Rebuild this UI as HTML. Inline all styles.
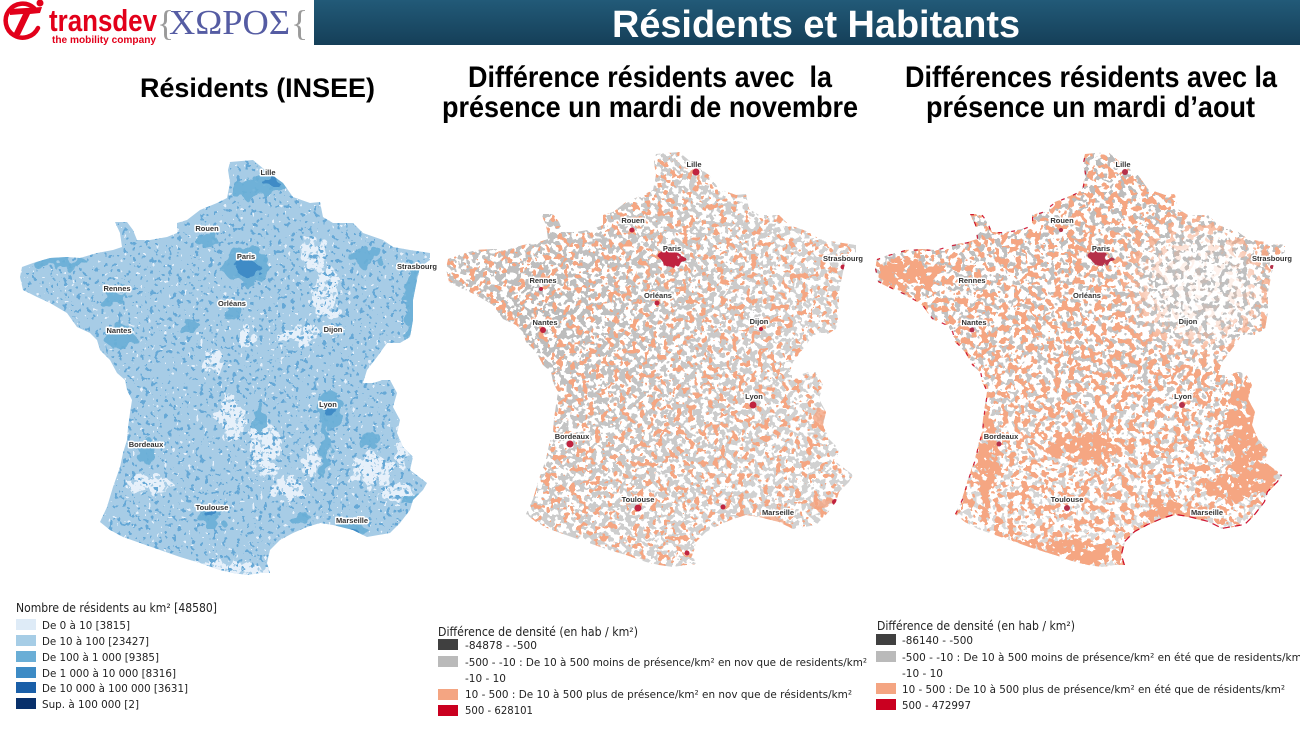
<!DOCTYPE html>
<html><head><meta charset="utf-8"><style>html,body{margin:0;padding:0;background:#fff}svg{display:block}</style></head>
<body>
<svg width="1300" height="731" viewBox="0 0 1300 731" xmlns="http://www.w3.org/2000/svg" xmlns:xlink="http://www.w3.org/1999/xlink" font-family="'Liberation Sans', sans-serif">
<defs>
 <linearGradient id="bar" x1="0" y1="0" x2="0" y2="1"><stop offset="0" stop-color="#225a78"/><stop offset="1" stop-color="#153f58"/></linearGradient>
 <linearGradient id="gN" x1="0" y1="0" x2="0" y2="1"><stop offset="0" stop-color="#fff"/><stop offset="0.5" stop-color="#ddd"/><stop offset="1" stop-color="#777"/></linearGradient>
 <radialGradient id="gW2" cx="0.25" cy="0.4" r="0.6"><stop offset="0" stop-color="#fff"/><stop offset="1" stop-color="#aaa"/></radialGradient>
 <path id="fr" d="M230,162 L253,160 L265,170 L283,183 L293,197 L310,203 L320,202 L323,217 L333,223 L353,223 L363,233 L383,240 L393,247 L410,250 L430,253 L430,260 L420,267 L417,280 L413,300 L413,320 L410,337 L400,343 L387,343 L377,357 L367,370 L363,383 L373,383 L383,380 L390,380 L397,393 L393,407 L400,420 L397,433 L403,447 L413,457 L410,470 L427,483 L423,490 L413,500 L410,510 L400,523 L390,533 L367,537 L353,530 L333,525 L320,523 L307,527 L293,533 L280,540 L270,550 L267,563 L270,573 L260,573 L247,575 L233,573 L220,570 L200,563 L180,557 L160,550 L140,543 L123,537 L110,530 L100,522 L107,507 L113,487 L120,467 L123,453 L127,440 L128,427 L130,413 L132,400 L127,390 L125,380 L117,373 L110,360 L100,350 L97,340 L90,333 L77,327 L67,313 L50,303 L37,297 L23,290 L20,277 L22,267 L33,263 L50,258 L67,257 L80,258 L97,253 L113,250 L122,247 L120,233 L115,222 L127,222 L133,230 L137,240 L150,240 L167,237 L177,233 L177,223 L187,220 L200,210 L217,203 L227,198 L230,183 L228,170 Z"/>
 <clipPath id="cf"><use xlink:href="#fr"/></clipPath>
 <filter id="rough" x="-30%" y="-30%" width="160%" height="160%" color-interpolation-filters="sRGB">
   <feTurbulence type="fractalNoise" baseFrequency="0.09" numOctaves="2" seed="4" result="n"/>
   <feDisplacementMap in="SourceGraphic" in2="n" scale="20" xChannelSelector="R" yChannelSelector="G"/>
 </filter>
 <filter id="blur8" x="-50%" y="-50%" width="200%" height="200%"><feGaussianBlur stdDeviation="15"/></filter>
 <filter id="fB1" x="0" y="0" width="1" height="1" color-interpolation-filters="sRGB">
   <feTurbulence type="fractalNoise" baseFrequency="0.22" numOctaves="2" seed="3"/>
   <feColorMatrix type="matrix" values="0 0 0 0 0.40 0 0 0 0 0.66 0 0 0 0 0.84 1 0 0 0 0"/>
   <feComponentTransfer><feFuncA type="discrete" tableValues="0 0 0 0 0 0 0 0 0 0 0 0 0 1 1 1 1 1 1 1"/></feComponentTransfer>
 </filter>
 <filter id="fW1" x="0" y="0" width="1" height="1" color-interpolation-filters="sRGB">
   <feTurbulence type="fractalNoise" baseFrequency="0.25" numOctaves="1" seed="9"/>
   <feColorMatrix type="matrix" values="0 0 0 0 0.90 0 0 0 0 0.94 0 0 0 0 0.98 1 0 0 0 0"/>
   <feComponentTransfer><feFuncA type="discrete" tableValues="0 0 0 0 0 0 0 0 0 0 0 0 0 0 1 1 1 1 1 1"/></feComponentTransfer>
 </filter>
 <filter id="fWd" x="0" y="0" width="1" height="1" color-interpolation-filters="sRGB">
   <feTurbulence type="fractalNoise" baseFrequency="0.25" numOctaves="2" seed="13"/>
   <feColorMatrix type="matrix" values="0 0 0 0 0.90 0 0 0 0 0.94 0 0 0 0 0.98 1 0 0 0 0"/>
   <feComponentTransfer><feFuncA type="discrete" tableValues="0 0 0 0 0 0 0 0 1 1 1 1 1 1 1 1 1 1 1 1"/></feComponentTransfer>
 </filter>
 <filter id="fG2" x="0" y="0" width="1" height="1" color-interpolation-filters="sRGB">
   <feTurbulence type="fractalNoise" baseFrequency="0.17" numOctaves="2" seed="7"/>
   <feColorMatrix type="matrix" values="0 0 0 0 0.73 0 0 0 0 0.73 0 0 0 0 0.73 1 0 0 0 0"/>
   <feComponentTransfer><feFuncA type="discrete" tableValues="0 0 0 0 0 0 0 0 0 0 1 1 1 1 1 1 1 1 1 1"/></feComponentTransfer>
 </filter>
 <filter id="fS2" x="0" y="0" width="1" height="1" color-interpolation-filters="sRGB">
   <feTurbulence type="fractalNoise" baseFrequency="0.16" numOctaves="2" seed="19"/>
   <feColorMatrix type="matrix" values="0 0 0 0 0.96 0 0 0 0 0.65 0 0 0 0 0.51 1 0 0 0 0"/>
   <feComponentTransfer><feFuncA type="discrete" tableValues="0 0 0 0 0 0 0 0 0 0 0 0 1 1 1 1 1 1 1 1"/></feComponentTransfer>
 </filter>
 <filter id="fG3" x="0" y="0" width="1" height="1" color-interpolation-filters="sRGB">
   <feTurbulence type="fractalNoise" baseFrequency="0.17" numOctaves="2" seed="23"/>
   <feColorMatrix type="matrix" values="0 0 0 0 0.73 0 0 0 0 0.73 0 0 0 0 0.73 1 0 0 0 0"/>
   <feComponentTransfer><feFuncA type="discrete" tableValues="0 0 0 0 0 0 0 0 0 0 0 1 1 1 1 1 1 1 1 1"/></feComponentTransfer>
 </filter>
 <filter id="fS3" x="0" y="0" width="1" height="1" color-interpolation-filters="sRGB">
   <feTurbulence type="fractalNoise" baseFrequency="0.15" numOctaves="2" seed="31"/>
   <feColorMatrix type="matrix" values="0 0 0 0 0.96 0 0 0 0 0.65 0 0 0 0 0.51 1 0 0 0 0"/>
   <feComponentTransfer><feFuncA type="discrete" tableValues="0 0 0 0 0 0 0 0 0 0 0 1 1 1 1 1 1 1 1 1"/></feComponentTransfer>
 </filter>
 <filter id="fSd" x="0" y="0" width="1" height="1" color-interpolation-filters="sRGB">
   <feTurbulence type="fractalNoise" baseFrequency="0.15" numOctaves="2" seed="41"/>
   <feColorMatrix type="matrix" values="0 0 0 0 0.96 0 0 0 0 0.65 0 0 0 0 0.51 1 0 0 0 0"/>
   <feComponentTransfer><feFuncA type="discrete" tableValues="0 0 0 0 0 0 0 0 1 1 1 1 1 1 1 1 1 1 1 1"/></feComponentTransfer>
 </filter>
 <mask id="mN" maskUnits="userSpaceOnUse" x="0" y="140" width="450" height="450"><rect x="0" y="140" width="450" height="450" fill="url(#gN)"/></mask>
 <mask id="mG2" maskUnits="userSpaceOnUse" x="0" y="140" width="450" height="450"><rect x="0" y="140" width="450" height="450" fill="url(#gW2)"/></mask>
 <mask id="mNE" maskUnits="userSpaceOnUse" x="0" y="140" width="450" height="450">
   <rect x="0" y="140" width="450" height="450" fill="#fff"/>
   <ellipse cx="345" cy="295" rx="60" ry="55" fill="#222" filter="url(#blur8)"/>
 </mask>
 <mask id="mW1" maskUnits="userSpaceOnUse" x="0" y="140" width="450" height="450">
  <g filter="url(#rough)" fill="#fff">
    <ellipse cx="315" cy="255" rx="12" ry="16"/>
    <ellipse cx="327" cy="292" rx="14" ry="26"/>
    <ellipse cx="300" cy="335" rx="20" ry="10"/>
    <ellipse cx="245" cy="338" rx="9" ry="11"/>
    <ellipse cx="215" cy="362" rx="9" ry="13"/>
    <ellipse cx="232" cy="418" rx="14" ry="20"/>
    <ellipse cx="265" cy="447" rx="16" ry="28"/>
    <ellipse cx="290" cy="488" rx="16" ry="12"/>
    <ellipse cx="310" cy="462" rx="8" ry="15"/>
    <ellipse cx="372" cy="470" rx="20" ry="18"/>
    <ellipse cx="402" cy="447" rx="8" ry="22"/>
    <ellipse cx="398" cy="492" rx="14" ry="9"/>
    <ellipse cx="148" cy="484" rx="22" ry="9"/>
    <ellipse cx="200" cy="569" rx="70" ry="9"/>
  </g>
 </mask>
 <mask id="mB3" maskUnits="userSpaceOnUse" x="0" y="140" width="450" height="450">
  <g filter="url(#rough)" fill="#fff">
    <ellipse cx="392" cy="430" rx="22" ry="40"/>
    <ellipse cx="400" cy="480" rx="22" ry="25"/>
    <ellipse cx="375" cy="497" rx="25" ry="12"/>
    <ellipse cx="132" cy="470" rx="10" ry="50"/>
    <ellipse cx="205" cy="562" rx="65" ry="12"/>
    <ellipse cx="55" cy="282" rx="30" ry="14"/>
    <ellipse cx="230" cy="455" rx="35" ry="14"/>
    <ellipse cx="320" cy="520" rx="35" ry="10"/>
  </g>
 </mask>
</defs>

<rect width="1300" height="731" fill="#fff"/>

<!-- Header -->
<rect x="314" y="0" width="986" height="45" fill="url(#bar)"/>
<text x="612" y="37" font-size="38" font-weight="bold" fill="#fff" textLength="408" lengthAdjust="spacingAndGlyphs">Résidents et Habitants</text>

<!-- Logo -->
<g fill="none" stroke="#e2001a" stroke-width="4.5" stroke-linecap="round">
  <path d="M34,8 A17,17 0 1 0 38,28"/>
</g>
<path d="M10,9 L42,7 L40,13 L30,14 L20,35 L13,35 L23,14 L10,15 Z" fill="#e2001a"/>
<circle cx="40" cy="3" r="3.5" fill="#e2001a"/>
<text x="49" y="31" font-size="31" font-weight="bold" fill="#e2001a" textLength="108" lengthAdjust="spacingAndGlyphs">transdev</text>
<text x="52" y="43" font-size="10" font-weight="bold" fill="#e2001a" textLength="104" lengthAdjust="spacingAndGlyphs">the mobility company</text>
<text x="157" y="35" font-size="36" font-family="'Liberation Serif', serif" fill="#9a9a9a">{</text>
<text x="169" y="34" font-size="35" font-family="'Liberation Serif', serif" fill="#555ca3" textLength="121" lengthAdjust="spacingAndGlyphs">ΧΩΡΟΣ</text>
<text x="291" y="35" font-size="36" font-family="'Liberation Serif', serif" fill="#9a9a9a">{</text>

<!-- Subtitles -->
<text x="140" y="97" font-size="27" font-weight="bold" fill="#000" textLength="235" lengthAdjust="spacingAndGlyphs">Résidents (INSEE)</text>
<text x="468" y="87" font-size="30" font-weight="bold" fill="#000" textLength="364" lengthAdjust="spacingAndGlyphs" xml:space="preserve">Différence résidents avec  la</text>
<text x="442" y="117" font-size="30" font-weight="bold" fill="#000" textLength="416" lengthAdjust="spacingAndGlyphs">présence un mardi de novembre</text>
<text x="905" y="87" font-size="30" font-weight="bold" fill="#000" textLength="372" lengthAdjust="spacingAndGlyphs">Différences résidents avec la</text>
<text x="926" y="117" font-size="30" font-weight="bold" fill="#000" textLength="329" lengthAdjust="spacingAndGlyphs">présence un mardi d’aout</text>

<!-- MAP 1 -->
<g clip-path="url(#cf)">
  <rect x="10" y="150" width="430" height="435" fill="#a7cce6"/>
  <rect x="10" y="150" width="430" height="435" fill="#fff" filter="url(#fW1)"/>
  <rect x="10" y="150" width="430" height="435" fill="#fff" filter="url(#fWd)" mask="url(#mW1)"/>
  <rect x="10" y="150" width="430" height="435" fill="#6aaed6" filter="url(#fB1)"/>
  <g filter="url(#rough)" fill="#6aaed6" opacity="0.9">
    <ellipse cx="246" cy="266" rx="24" ry="18"/>
    <ellipse cx="268" cy="183" rx="18" ry="12"/>
    <ellipse cx="245" cy="190" rx="12" ry="8"/>
    <ellipse cx="330" cy="410" rx="12" ry="18"/>
    <ellipse cx="325" cy="452" rx="5" ry="30"/>
    <ellipse cx="411" cy="300" rx="7" ry="38"/>
    <ellipse cx="365" cy="258" rx="14" ry="10"/>
    <ellipse cx="352" cy="528" rx="16" ry="7"/>
    <ellipse cx="415" cy="500" rx="10" ry="6"/>
    <ellipse cx="212" cy="515" rx="12" ry="12"/>
    <ellipse cx="145" cy="452" rx="10" ry="10"/>
    <ellipse cx="120" cy="338" rx="14" ry="12"/>
    <ellipse cx="115" cy="296" rx="12" ry="9"/>
    <ellipse cx="207" cy="240" rx="10" ry="8"/>
    <ellipse cx="60" cy="262" rx="25" ry="5"/>
    <ellipse cx="370" cy="440" rx="8" ry="8"/>
    <ellipse cx="300" cy="518" rx="10" ry="6"/>
    <ellipse cx="260" cy="420" rx="8" ry="10"/>
    <ellipse cx="232" cy="312" rx="8" ry="6"/>
    <ellipse cx="190" cy="325" rx="8" ry="6"/>
  </g>
  <g filter="url(#rough)" fill="#3f8bc6">
    <ellipse cx="247" cy="268" rx="11" ry="9"/>
    <ellipse cx="272" cy="182" rx="6" ry="5"/>
    <ellipse cx="330" cy="410" rx="5" ry="6"/>
    <ellipse cx="352" cy="530" rx="6" ry="3"/>
    <ellipse cx="212" cy="516" rx="4" ry="4"/>
  </g>
</g>

<!-- MAP 2 -->
<g transform="translate(426,-8)">
  <g clip-path="url(#cf)">
    <rect x="10" y="150" width="430" height="435" fill="#fff"/>
    <rect x="10" y="150" width="430" height="435" fill="#bababa" filter="url(#fG2)" mask="url(#mG2)"/>
    <rect x="10" y="150" width="430" height="435" fill="#f4a582" filter="url(#fS2)"/>
    <g filter="url(#rough)" fill="#f4a582" opacity="0.8">
      <ellipse cx="335" cy="527" rx="22" ry="4"/>
      <ellipse cx="395" cy="512" rx="10" ry="5"/>
      <ellipse cx="395" cy="425" rx="6" ry="10"/>
    </g>
    <g fill="#c0233f">
      <ellipse cx="245" cy="266" rx="11" ry="9" filter="url(#rough)"/>
      <circle cx="270" cy="180" r="3.5"/>
      <circle cx="327" cy="413" r="3.5"/>
      <circle cx="144" cy="452" r="3.5"/>
      <circle cx="212" cy="516" r="3.5"/>
      <circle cx="117" cy="338" r="3"/>
      <circle cx="351" cy="534" r="3"/>
      <circle cx="409" cy="510" r="3"/>
      <circle cx="417" cy="275" r="2.5"/>
      <circle cx="297" cy="515" r="2.5"/>
      <circle cx="261" cy="561" r="2.5"/>
      <circle cx="231" cy="311" r="2.5"/>
      <circle cx="206" cy="238" r="2.5"/>
      <circle cx="335" cy="337" r="2"/>
      <circle cx="115" cy="297" r="2"/>
    </g>
  </g>
</g>

<!-- MAP 3 -->
<g transform="translate(855,-8)">
  <g clip-path="url(#cf)">
    <rect x="10" y="150" width="430" height="435" fill="#fff"/>
    <rect x="10" y="150" width="430" height="435" fill="#bababa" filter="url(#fG3)" mask="url(#mN)"/>
    <g mask="url(#mNE)">
      <rect x="10" y="150" width="430" height="435" fill="#f4a582" filter="url(#fS3)"/>
    </g>
    <rect x="10" y="150" width="430" height="435" fill="#f4a582" filter="url(#fSd)" mask="url(#mB3)"/>
    <polyline fill="none" stroke="#ca0020" stroke-width="2.5" stroke-dasharray="4 9" opacity="0.85" points="100,522 107,507 113,487 120,467 123,453 127,440 128,427 130,413 132,400 127,390 125,380 117,373 110,360 100,350 97,340 90,333 77,327 67,313 50,303 37,297 23,290 20,277 22,267 33,263 50,258 67,257 80,258 97,253 113,250 122,247 120,233 115,222 127,222 133,230 137,240 150,240 167,237 177,233 177,223 187,220 200,210 217,203 227,198 230,183 228,170 230,162"/>
    <polyline fill="none" stroke="#ca0020" stroke-width="2.5" stroke-dasharray="7 5" opacity="0.9" points="270,573 267,563 270,550 280,540 293,533 307,527 320,523 333,525 353,530 367,537 390,533 400,523 410,510 413,500 423,490 427,483"/>
    <g fill="#b5304a">
      <ellipse cx="245" cy="266" rx="10" ry="8" filter="url(#rough)"/>
      <circle cx="270" cy="180" r="3"/>
      <circle cx="327" cy="413" r="3"/>
      <circle cx="144" cy="452" r="2.5"/>
      <circle cx="212" cy="516" r="3"/>
      <circle cx="117" cy="338" r="2.5"/>
      <circle cx="351" cy="534" r="2.5"/>
      <circle cx="206" cy="238" r="2"/>
      <circle cx="417" cy="275" r="2"/>
    </g>
  </g>
</g>

<!-- City labels -->
<g font-size="7.5" font-weight="bold" fill="#333" stroke="#fff" stroke-width="3" stroke-linejoin="round" paint-order="stroke" text-anchor="middle">
  <g>
    <text x="268" y="175">Lille</text>
    <text x="207" y="231">Rouen</text>
    <text x="246" y="259">Paris</text>
    <text x="417" y="269">Strasbourg</text>
    <text x="117" y="291">Rennes</text>
    <text x="232" y="306">Orléans</text>
    <text x="119" y="333">Nantes</text>
    <text x="333" y="332">Dijon</text>
    <text x="328" y="407">Lyon</text>
    <text x="146" y="447">Bordeaux</text>
    <text x="212" y="510">Toulouse</text>
    <text x="352" y="523">Marseille</text>
  </g>
  <g transform="translate(426,-8)">
    <text x="268" y="175">Lille</text>
    <text x="207" y="231">Rouen</text>
    <text x="246" y="259">Paris</text>
    <text x="417" y="269">Strasbourg</text>
    <text x="117" y="291">Rennes</text>
    <text x="232" y="306">Orléans</text>
    <text x="119" y="333">Nantes</text>
    <text x="333" y="332">Dijon</text>
    <text x="328" y="407">Lyon</text>
    <text x="146" y="447">Bordeaux</text>
    <text x="212" y="510">Toulouse</text>
    <text x="352" y="523">Marseille</text>
  </g>
  <g transform="translate(855,-8)">
    <text x="268" y="175">Lille</text>
    <text x="207" y="231">Rouen</text>
    <text x="246" y="259">Paris</text>
    <text x="417" y="269">Strasbourg</text>
    <text x="117" y="291">Rennes</text>
    <text x="232" y="306">Orléans</text>
    <text x="119" y="333">Nantes</text>
    <text x="333" y="332">Dijon</text>
    <text x="328" y="407">Lyon</text>
    <text x="146" y="447">Bordeaux</text>
    <text x="212" y="510">Toulouse</text>
    <text x="352" y="523">Marseille</text>
  </g>
</g>

<!-- Legend 1 -->
<g font-family="'DejaVu Sans', sans-serif" fill="#222">
  <text x="16" y="612" font-size="12" textLength="201" lengthAdjust="spacingAndGlyphs">Nombre de résidents au km² [48580]</text>
  <rect x="16" y="619" width="20" height="11" fill="#deebf7"/>
  <rect x="16" y="635" width="20" height="11" fill="#a6cde6"/>
  <rect x="16" y="651" width="20" height="11" fill="#6aaed6"/>
  <rect x="16" y="667" width="20" height="11" fill="#3d8bc5"/>
  <rect x="16" y="682" width="20" height="11" fill="#1a5fa8"/>
  <rect x="16" y="698" width="20" height="11" fill="#08306b"/>
  <g font-size="11">
    <text x="42" y="629" textLength="88" lengthAdjust="spacingAndGlyphs">De 0 à 10 [3815]</text>
    <text x="42" y="645" textLength="107" lengthAdjust="spacingAndGlyphs">De 10 à 100 [23427]</text>
    <text x="42" y="661" textLength="117" lengthAdjust="spacingAndGlyphs">De 100 à 1 000 [9385]</text>
    <text x="42" y="677" textLength="134" lengthAdjust="spacingAndGlyphs">De 1 000 à 10 000 [8316]</text>
    <text x="42" y="692" textLength="146" lengthAdjust="spacingAndGlyphs">De 10 000 à 100 000 [3631]</text>
    <text x="42" y="708" textLength="97" lengthAdjust="spacingAndGlyphs">Sup. à 100 000 [2]</text>
  </g>
</g>

<!-- Legend 2 -->
<g font-family="'DejaVu Sans', sans-serif" fill="#222">
  <text x="438" y="636" font-size="12" textLength="200" lengthAdjust="spacingAndGlyphs">Différence de densité (en hab / km²)</text>
  <rect x="438" y="639" width="20" height="11" fill="#404040"/>
  <rect x="438" y="656" width="20" height="11" fill="#bababa"/>
  <rect x="438" y="689" width="20" height="11" fill="#f4a582"/>
  <rect x="438" y="705" width="20" height="11" fill="#ca0020"/>
  <g font-size="11">
    <text x="465" y="649" textLength="72" lengthAdjust="spacingAndGlyphs">-84878 - -500</text>
    <text x="465" y="666" textLength="402" lengthAdjust="spacingAndGlyphs">-500 - -10 : De 10 à 500 moins de présence/km² en nov que de residents/km²</text>
    <text x="465" y="682" textLength="41" lengthAdjust="spacingAndGlyphs">-10 - 10</text>
    <text x="465" y="698" textLength="387" lengthAdjust="spacingAndGlyphs">10 - 500 : De 10 à 500 plus de présence/km² en nov que de résidents/km²</text>
    <text x="465" y="714" textLength="68" lengthAdjust="spacingAndGlyphs">500 - 628101</text>
  </g>
</g>

<!-- Legend 3 -->
<g font-family="'DejaVu Sans', sans-serif" fill="#222">
  <text x="877" y="630" font-size="12" textLength="198" lengthAdjust="spacingAndGlyphs">Différence de densité (en hab / km²)</text>
  <rect x="876" y="634" width="20" height="11" fill="#404040"/>
  <rect x="876" y="651" width="20" height="11" fill="#bababa"/>
  <rect x="876" y="683" width="20" height="11" fill="#f4a582"/>
  <rect x="876" y="699" width="20" height="11" fill="#ca0020"/>
  <g font-size="11">
    <text x="902" y="644" textLength="71" lengthAdjust="spacingAndGlyphs">-86140 - -500</text>
    <text x="902" y="661" textLength="404" lengthAdjust="spacingAndGlyphs">-500 - -10 : De 10 à 500 moins de présence/km² en été que de residents/km²</text>
    <text x="902" y="677" textLength="41" lengthAdjust="spacingAndGlyphs">-10 - 10</text>
    <text x="902" y="693" textLength="383" lengthAdjust="spacingAndGlyphs">10 - 500 : De 10 à 500 plus de présence/km² en été que de résidents/km²</text>
    <text x="902" y="709" textLength="69" lengthAdjust="spacingAndGlyphs">500 - 472997</text>
  </g>
</g>
</svg>
</body></html>
